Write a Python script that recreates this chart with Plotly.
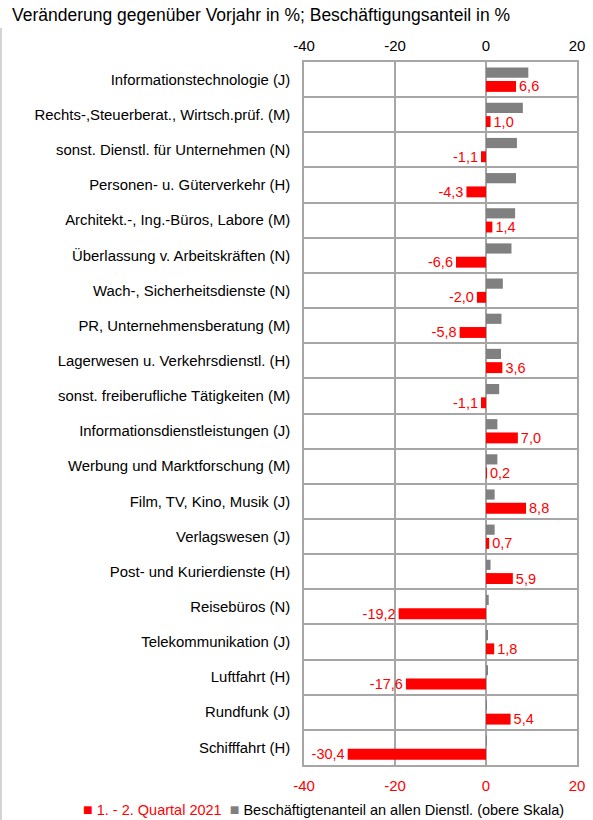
import plotly.graph_objects as go

categories = [
    "Informationstechnologie (J)",
    "Rechts-,Steuerberat., Wirtsch.prüf. (M)",
    "sonst. Dienstl. für Unternehmen (N)",
    "Personen- u. Güterverkehr (H)",
    "Architekt.-, Ing.-Büros, Labore (M)",
    "Überlassung v. Arbeitskräften (N)",
    "Wach-, Sicherheitsdienste (N)",
    "PR, Unternehmensberatung (M)",
    "Lagerwesen u. Verkehrsdienstl. (H)",
    "sonst. freiberufliche Tätigkeiten (M)",
    "Informationsdienstleistungen (J)",
    "Werbung und Marktforschung (M)",
    "Film, TV, Kino, Musik (J)",
    "Verlagswesen (J)",
    "Post- und Kurierdienste (H)",
    "Reisebüros (N)",
    "Telekommunikation (J)",
    "Luftfahrt (H)",
    "Rundfunk (J)",
    "Schifffahrt (H)",
]
change_2021 = [6.6, 1.0, -1.1, -4.3, 1.4, -6.6, -2.0, -5.8, 3.6, -1.1,
               7.0, 0.2, 8.8, 0.7, 5.9, -19.2, 1.8, -17.6, 5.4, -30.4]
employment_share = [9.3, 8.1, 6.8, 6.6, 6.4, 5.6, 3.7, 3.4, 3.3, 2.9,
                    2.5, 2.5, 1.9, 1.9, 1.0, 0.6, 0.4, 0.3, 0.2, 0.1]
x_ticks = [-40, -20, 0, 20]
x_tick_labels = ["-40", "-20", "0", "20"]
series_names = ["1. - 2. Quartal 2021",
                "Beschäftigtenanteil an allen Dienstl. (obere Skala)"]

labels = [f"{v:.1f}".replace(".", ",") for v in change_2021]

FONT = "Liberation Sans, Arial, sans-serif"
RED = "#FF0000"
GRAY = "#808080"
GRID = "#A6A6A6"

fig = go.Figure()
fig.add_trace(go.Bar(
    y=categories, x=change_2021, orientation="h",
    name=series_names[0], showlegend=False,
    marker=dict(color=RED, line=dict(width=0)),
    width=0.31, offset=0.04,
    text=labels, textposition="outside", cliponaxis=False,
    constraintext="none",
    textfont=dict(color=RED, size=14.5, family=FONT),
    xaxis="x", yaxis="y",
))
fig.add_trace(go.Bar(
    y=categories, x=employment_share, orientation="h",
    name=series_names[1], showlegend=False,
    marker=dict(color=GRAY, line=dict(width=0)),
    width=0.29, offset=-0.34,
    xaxis="x2", yaxis="y",
))

legend_text = (f"<span style='color:{RED};font-size:16px'>■</span>"
               f"<span style='color:{RED}'> {series_names[0]}</span>"
               f"  <span style='color:{GRAY};font-size:16px'>■</span> {series_names[1]}")

fig.update_layout(
    width=593, height=820,
    margin=dict(l=304, r=16, t=62, b=55, autoexpand=False),
    paper_bgcolor="white", plot_bgcolor="white",
    font=dict(family=FONT, size=15, color="black"),
    showlegend=False,
    title=dict(text="Veränderung gegenüber Vorjahr in %; Beschäftigungsanteil in %",
               xref="container", yref="container", x=12 / 593, xanchor="left",
               y=1 - 15 / 820, yanchor="middle",
               font=dict(size=17.5, family=FONT, color="black")),
    xaxis=dict(range=[-40, 20], tickvals=x_ticks, ticktext=x_tick_labels, ticks="",
               showgrid=True, gridcolor=GRID, gridwidth=1.5, zeroline=True,
               zerolinecolor=GRID, zerolinewidth=1.5, ticklabelstandoff=6,
               tickfont=dict(color=RED, size=15), showline=True, linecolor=GRID,
               linewidth=1.5, mirror=True, side="bottom"),
    xaxis2=dict(range=[-40, 20], tickvals=x_ticks, ticktext=x_tick_labels, ticks="",
                overlaying="x", side="top", showgrid=False, zeroline=False,
                tickfont=dict(color="black", size=15), ticklabelstandoff=7,
                showline=False),
    yaxis=dict(categoryorder="array", categoryarray=categories, autorange="reversed",
               tickson="boundaries", ticks="", showgrid=True, gridcolor=GRID,
               gridwidth=1.5, showline=True, linecolor=GRID, linewidth=1.5,
               mirror=True, tickfont=dict(size=14.9, color="black"), ticklabelstandoff=9),
    annotations=[dict(text=legend_text, xref="paper", yref="paper",
                      x=(81 - 304) / 273, y=(765 - 809) / 703, xanchor="left",
                      yanchor="middle", showarrow=False,
                      font=dict(size=14.5, family=FONT, color="black"))],
    shapes=[dict(type="line", xref="paper", yref="paper",
                 x0=(1 - 304) / 273, x1=(1 - 304) / 273,
                 y0=(765 - 28) / 703, y1=(765 - 830) / 703,
                 line=dict(color="#D4D4D4", width=2))],
)

fig.write_html("out.html", config={"displayModeBar": False},
               post_script="document.body.style.margin='0px';")
